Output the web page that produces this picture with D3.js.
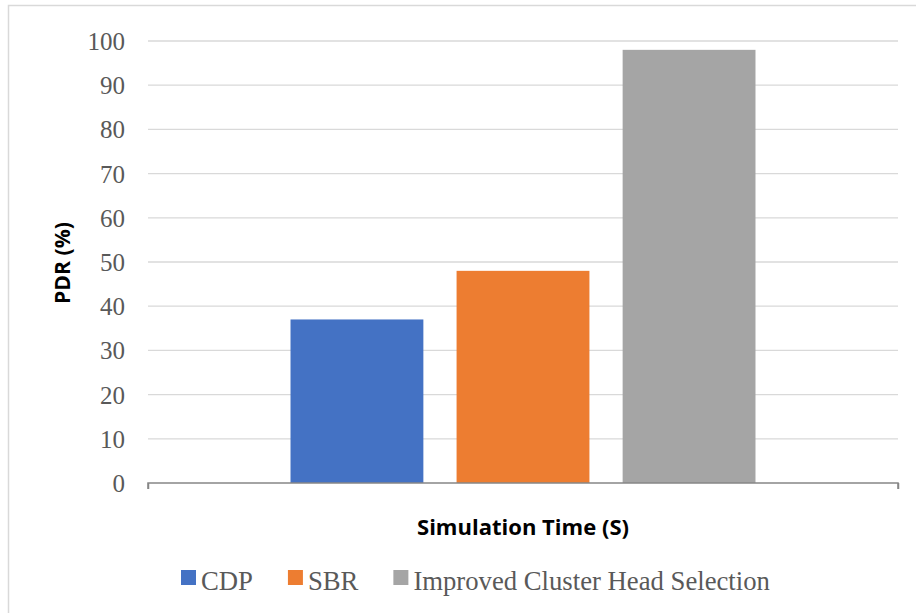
<!DOCTYPE html>
<html>
<head>
<meta charset="utf-8">
<script src="https://cdn.jsdelivr.net/npm/d3@7"></script>
<style>
    body { margin: 0; background: #ffffff; }
    svg { display: block; }
</style>
</head>
<body>
<div id="chart"></div>
<script>
    //data
    var categories = ["Simulation Time"];
    var seriesNames = ["CDP", "SBR", "Improved Cluster Head Selection"];
    var seriesValues = [37, 48, 98];
    var seriesColors = ["#4472C4", "#ED7D31", "#A5A5A5"];
    var yTicks = [0, 10, 20, 30, 40, 50, 60, 70, 80, 90, 100];

    var width = 916, height = 613;
    var plotLeft = 148, plotRight = 898, plotTop = 41, plotBottom = 483;

    var svg = d3.select("#chart").append("svg")
        .attr("width", width)
        .attr("height", height);

    //chart frame (right and bottom run off the picture)
    svg.append("rect")
        .attr("x", 8.5)
        .attr("y", 5.5)
        .attr("width", 1000)
        .attr("height", 1000)
        .style("fill", "white")
        .style("stroke", "#d9d9d9")
        .style("stroke-width", 1.5);

    var yScale = d3.scaleLinear().domain([0, 100]).range([plotBottom, plotTop]);

    var xCategory = d3.scaleBand().domain(categories)
        .range([plotLeft, plotRight])
        .paddingInner(0)
        .paddingOuter(0.3065);

    var xSeries = d3.scaleBand().domain(seriesNames)
        .range([0, xCategory.bandwidth()])
        .paddingInner(0.2)
        .paddingOuter(0);

    //gridlines
    svg.append("g").selectAll("line.grid")
        .data(yTicks.filter(function(d){ return d > 0; }))
        .enter().append("line")
        .attr("class", "grid")
        .attr("x1", plotLeft)
        .attr("x2", plotRight)
        .attr("y1", function(d){ return yScale(d); })
        .attr("y2", function(d){ return yScale(d); })
        .style("stroke", "#d9d9d9")
        .style("stroke-width", 1.3);

    //y tick labels
    var yAxis = d3.axisLeft(yScale).tickValues(yTicks).tickSize(0).tickPadding(0);
    var yAxisGroup = svg.append("g")
        .attr("transform", "translate(125,0)")
        .call(yAxis);
    yAxisGroup.select(".domain").remove();
    yAxisGroup.selectAll("text")
        .attr("dy", "0.34em")
        .style("font-family", "'Liberation Serif', 'Times New Roman', serif")
        .style("font-size", "25px")
        .style("fill", "#595959");

    //bars
    var barData = seriesNames.map(function(name, i){
        return {category: categories[0], name: name, value: seriesValues[i], color: seriesColors[i]};
    });

    svg.append("g").selectAll("rect.bar")
        .data(barData)
        .enter().append("rect")
        .attr("class", "bar")
        .attr("x", function(d){ return xCategory(d.category) + xSeries(d.name); })
        .attr("y", function(d){ return yScale(d.value); })
        .attr("width", xSeries.bandwidth())
        .attr("height", function(d){ return yScale(0) - yScale(d.value); })
        .style("fill", function(d){ return d.color; });

    //x axis line with end ticks
    var xAxis = d3.axisBottom(d3.scaleLinear().domain([0, 1]).range([plotLeft, plotRight]))
        .tickValues([0, 1]).tickSize(6).tickFormat("");
    var xAxisGroup = svg.append("g")
        .attr("transform", "translate(0," + plotBottom + ")")
        .call(xAxis);
    xAxisGroup.select(".domain")
        .attr("d", "M" + plotLeft + ",6V0H" + plotRight + "V6")
        .style("stroke", "#868686")
        .style("stroke-width", 1.5)
        .style("fill", "none");
    xAxisGroup.selectAll(".tick line")
        .style("stroke", "#868686")
        .style("stroke-width", 1.5);

    //axis titles
    svg.append("text")
        .attr("x", (plotLeft + plotRight) / 2)
        .attr("y", 535)
        .attr("text-anchor", "middle")
        .attr("textLength", 212)
        .attr("lengthAdjust", "spacingAndGlyphs")
        .style("font-family", "'Open Sans', 'Liberation Sans', sans-serif")
        .style("font-weight", "bold")
        .style("font-size", "21px")
        .style("fill", "#000000")
        .text("Simulation Time (S)");

    svg.append("text")
        .attr("transform", "translate(70,263) rotate(-90)")
        .attr("text-anchor", "middle")
        .attr("textLength", 82)
        .attr("lengthAdjust", "spacingAndGlyphs")
        .style("font-family", "'Open Sans', 'Liberation Sans', sans-serif")
        .style("font-weight", "bold")
        .style("font-size", "21px")
        .style("fill", "#000000")
        .text("PDR (%)");

    //legend
    var legend = svg.append("g").attr("transform", "translate(0,570)");
    var legendX = 181;
    barData.forEach(function(d){
        legend.append("rect")
            .attr("x", legendX)
            .attr("y", 0)
            .attr("width", 15)
            .attr("height", 15)
            .style("fill", d.color);
        var t = legend.append("text")
            .attr("x", legendX + 20)
            .attr("y", 20)
            .style("font-family", "'Liberation Serif', 'Times New Roman', serif")
            .style("font-size", "26.7px")
            .style("fill", "#595959")
            .text(d.name);
        legendX = legendX + 20 + t.node().getComputedTextLength() + 35;
    });
</script>
</body>
</html>
